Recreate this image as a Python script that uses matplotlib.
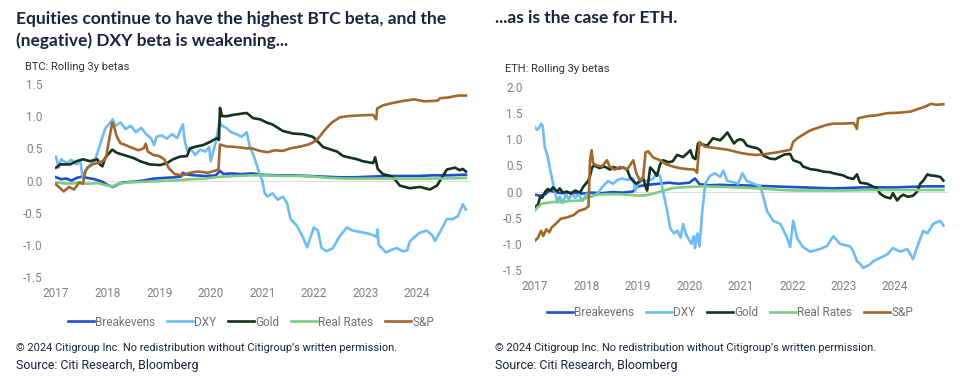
import matplotlib
matplotlib.use("Agg")
import matplotlib.pyplot as plt

# --- series colours / names ---
SERIES = ["Breakevens", "DXY", "Gold", "Real Rates", "S&P"]
COLORS = {"Breakevens": "#1f4fd0", "DXY": "#6fbcf5", "Gold": "#15321f",
          "Real Rates": "#7ccc84", "S&P": "#a2672c"}
NAVY = "#1d2140"
GREY = "#808080"
NARROW = ["Liberation Sans Narrow", "Roboto", "DejaVu Sans"]
YEARS = [2017, 2018, 2019, 2020, 2021, 2022, 2023, 2024]

# --- BTC: rolling 3y betas (decimal year, beta) ---
btc_be_x = [2017.0, 2017.1, 2017.2, 2017.3, 2017.4, 2017.5, 2017.6, 2017.75, 2017.9, 2018.0, 2018.1,
            2018.2, 2018.3, 2018.5, 2018.7, 2018.9, 2019.1, 2019.3, 2019.42, 2019.46, 2019.55, 2019.7,
            2019.9, 2020.1, 2020.18, 2020.25, 2020.4, 2020.6, 2020.8, 2021.0, 2021.3, 2021.6, 2021.9,
            2022.2, 2022.5, 2022.8, 2023.1, 2023.4, 2023.7, 2024.0, 2024.3, 2024.6, 2024.95]
btc_be_y = [0.05, 0.02, 0.03, 0.0, 0.04, 0.06, 0.04, 0.02, -0.02, -0.07, -0.1,
            -0.06, -0.03, -0.02, 0.0, 0.03, 0.04, 0.05, 0.06, 0.12, 0.09, 0.08,
            0.07, 0.08, 0.15, 0.1, 0.11, 0.1, 0.11, 0.09, 0.08, 0.08, 0.07,
            0.06, 0.05, 0.05, 0.06, 0.07, 0.07, 0.07, 0.08, 0.08, 0.09]

btc_dxy_x = [2017.0, 2017.05, 2017.1, 2017.2, 2017.3, 2017.4, 2017.47, 2017.52, 2017.6, 2017.75,
             2017.85, 2017.95, 2018.05, 2018.1, 2018.15, 2018.25, 2018.35, 2018.45, 2018.55, 2018.65,
             2018.75, 2018.85, 2018.9, 2018.95, 2019.05, 2019.15, 2019.25, 2019.35, 2019.42, 2019.46,
             2019.5, 2019.55, 2019.6, 2019.7, 2019.8, 2019.9, 2019.97, 2020.0, 2020.05, 2020.1,
             2020.17, 2020.22, 2020.3, 2020.4, 2020.5, 2020.6, 2020.7, 2020.75, 2020.85, 2020.95,
             2021.0, 2021.05, 2021.1, 2021.2, 2021.3, 2021.4, 2021.48, 2021.55, 2021.67, 2021.8,
             2021.87, 2021.95, 2022.0, 2022.08, 2022.15, 2022.25, 2022.37, 2022.5, 2022.64, 2022.76,
             2022.9, 2023.03, 2023.15, 2023.22, 2023.23, 2023.26, 2023.4, 2023.5, 2023.61, 2023.72,
             2023.81, 2023.86, 2023.95, 2024.06, 2024.19, 2024.3, 2024.35, 2024.45, 2024.58, 2024.7,
             2024.8, 2024.89, 2024.95]
btc_dxy_y = [0.37, 0.2, 0.33, 0.27, 0.32, 0.25, 0.3, 0.04, 0.2, 0.3,
             0.55, 0.8, 0.9, 0.95, 0.85, 0.9, 0.8, 0.85, 0.75, 0.82,
             0.72, 0.65, 0.55, 0.68, 0.7, 0.65, 0.72, 0.66, 0.8, 0.87,
             0.6, 0.45, 0.5, 0.4, 0.48, 0.45, 0.52, 0.3, 0.45, 0.6,
             0.92, 0.85, 0.82, 0.75, 0.72, 0.68, 0.75, 0.55, 0.35, 0.1,
             0.0, -0.2, -0.25, -0.2, -0.3, -0.25, -0.35, -0.6, -0.7, -0.9,
             -1.04, -0.85, -0.73, -0.78, -1.05, -1.1, -1.05, -0.87, -0.73, -0.78,
             -0.8, -0.82, -0.85, -0.88, -0.76, -1.0, -1.12, -1.08, -1.05, -1.1,
             -1.09, -0.95, -0.88, -0.81, -0.78, -0.85, -0.94, -0.8, -0.6, -0.6,
             -0.55, -0.37, -0.45]

btc_gold_x = [2017.0, 2017.08, 2017.27, 2017.4, 2017.52, 2017.66, 2017.8, 2017.85, 2017.9, 2017.95,
              2018.09, 2018.18, 2018.38, 2018.5, 2018.63, 2018.82, 2019.02, 2019.15, 2019.27, 2019.4,
              2019.54, 2019.6, 2019.73, 2019.85, 2019.99, 2020.12, 2020.16, 2020.18, 2020.22, 2020.32,
              2020.43, 2020.7, 2020.82, 2020.96, 2021.09, 2021.2, 2021.4, 2021.6, 2021.79, 2021.98,
              2022.06, 2022.18, 2022.45, 2022.57, 2022.84, 2022.95, 2023.15, 2023.19, 2023.24, 2023.34,
              2023.53, 2023.61, 2023.67, 2023.86, 2024.06, 2024.25, 2024.39, 2024.45, 2024.58, 2024.74,
              2024.83, 2024.89, 2024.95]
btc_gold_y = [0.2, 0.25, 0.25, 0.3, 0.33, 0.3, 0.33, 0.25, 0.22, 0.35,
              0.48, 0.43, 0.38, 0.35, 0.3, 0.25, 0.24, 0.27, 0.33, 0.37,
              0.38, 0.5, 0.53, 0.55, 0.6, 0.66, 0.63, 1.13, 1.0, 1.0,
              1.02, 1.05, 0.97, 0.95, 0.9, 0.87, 0.77, 0.73, 0.72, 0.68,
              0.62, 0.52, 0.45, 0.38, 0.33, 0.3, 0.27, 0.36, 0.18, 0.1,
              0.06, -0.02, -0.08, -0.12, -0.1, -0.14, -0.08, 0.0, 0.17, 0.2,
              0.16, 0.18, 0.14]

btc_rr_x = [2017.0, 2017.2, 2017.4, 2017.6, 2017.8, 2018.0, 2018.1, 2018.2, 2018.4, 2018.7,
            2019.0, 2019.3, 2019.6, 2019.9, 2020.2, 2020.5, 2020.8, 2021.1, 2021.4, 2021.7,
            2022.0, 2022.3, 2022.6, 2023.0, 2023.5, 2024.0, 2024.5, 2024.95]
btc_rr_y = [-0.03, -0.05, -0.04, -0.05, -0.04, -0.08, -0.09, -0.05, -0.03, -0.02,
            -0.01, 0.0, 0.02, 0.03, 0.06, 0.07, 0.08, 0.08, 0.07, 0.07,
            0.06, 0.04, 0.03, 0.03, 0.03, 0.03, 0.03, 0.04]

btc_sp_x = [2017.0, 2017.08, 2017.15, 2017.25, 2017.35, 2017.45, 2017.52, 2017.57, 2017.62, 2017.7,
            2017.8, 2017.9, 2017.97, 2018.0, 2018.09, 2018.12, 2018.18, 2018.25, 2018.35, 2018.5,
            2018.6, 2018.7, 2018.74, 2018.78, 2018.88, 2019.0, 2019.1, 2019.18, 2019.3, 2019.45,
            2019.6, 2019.75, 2019.95, 2020.15, 2020.18, 2020.3, 2020.5, 2020.7, 2020.8, 2020.95,
            2021.1, 2021.25, 2021.4, 2021.55, 2021.75, 2021.9, 2022.0, 2022.08, 2022.25, 2022.35,
            2022.5, 2022.65, 2022.85, 2023.15, 2023.21, 2023.23, 2023.35, 2023.5, 2023.75, 2023.95,
            2024.15, 2024.4, 2024.45, 2024.6, 2024.8, 2024.95]
btc_sp_y = [-0.06, -0.12, -0.17, -0.1, -0.14, -0.03, -0.05, 0.15, 0.2, 0.25,
            0.27, 0.3, 0.35, 0.5, 0.9, 0.85, 0.68, 0.58, 0.55, 0.5,
            0.47, 0.5, 0.57, 0.45, 0.4, 0.38, 0.33, 0.2, 0.1, 0.08,
            0.12, 0.14, 0.12, 0.17, 0.56, 0.53, 0.52, 0.5, 0.5, 0.46,
            0.44, 0.47, 0.46, 0.5, 0.53, 0.56, 0.6, 0.65, 0.82, 0.9,
            0.98, 1.0, 1.01, 1.02, 0.95, 1.12, 1.17, 1.2, 1.24, 1.26,
            1.23, 1.24, 1.28, 1.29, 1.32, 1.32]

# --- ETH: rolling 3y betas ---
eth_be_x = [2017.0, 2017.1, 2017.2, 2017.28, 2017.35, 2017.5, 2017.7, 2017.9, 2018.1, 2018.3,
            2018.5, 2018.7, 2018.9, 2019.0, 2019.2, 2019.4, 2019.6, 2019.8, 2020.0, 2020.11,
            2020.2, 2020.4, 2020.6, 2020.8, 2021.0, 2021.3, 2021.6, 2021.9, 2022.2, 2022.5,
            2022.8, 2023.1, 2023.4, 2023.7, 2024.0, 2024.3, 2024.6, 2024.94]
eth_be_y = [-0.06, -0.08, -0.05, 0.02, 0.0, -0.03, -0.02, -0.04, -0.02, -0.03,
            -0.01, -0.02, 0.0, 0.1, 0.13, 0.15, 0.17, 0.15, 0.17, 0.25,
            0.14, 0.12, 0.13, 0.12, 0.12, 0.11, 0.1, 0.09, 0.08, 0.07,
            0.06, 0.07, 0.08, 0.08, 0.08, 0.09, 0.1, 0.1]

eth_dxy_x = [2017.0, 2017.04, 2017.08, 2017.12, 2017.15, 2017.19, 2017.24, 2017.3, 2017.35, 2017.39,
             2017.43, 2017.48, 2017.54, 2017.6, 2017.66, 2017.72, 2017.78, 2017.85, 2017.92, 2018.01,
             2018.1, 2018.21, 2018.32, 2018.42, 2018.52, 2018.6, 2018.7, 2018.8, 2018.91, 2018.95,
             2019.0, 2019.1, 2019.2, 2019.3, 2019.37, 2019.43, 2019.47, 2019.57, 2019.63, 2019.7,
             2019.77, 2019.83, 2019.88, 2019.93, 2019.98, 2020.04, 2020.09, 2020.11, 2020.16, 2020.2,
             2020.25, 2020.31, 2020.4, 2020.5, 2020.6, 2020.66, 2020.74, 2020.85, 2020.95, 2021.03,
             2021.12, 2021.25, 2021.38, 2021.44, 2021.51, 2021.63, 2021.77, 2021.9, 2021.96, 2022.02,
             2022.1, 2022.21, 2022.35, 2022.54, 2022.68, 2022.8, 2022.93, 2023.13, 2023.19, 2023.26,
             2023.32, 2023.38, 2023.5, 2023.58, 2023.71, 2023.85, 2023.96, 2024.1, 2024.24, 2024.35,
             2024.43, 2024.55, 2024.63, 2024.74, 2024.88, 2024.94]
eth_dxy_y = [1.23, 1.18, 1.22, 1.3, 1.25, 0.85, 0.7, 0.4, 0.15, 0.0,
             -0.2, -0.1, -0.22, -0.05, -0.15, -0.03, -0.12, -0.05, -0.18, -0.04,
             -0.1, -0.04, 0.1, 0.2, 0.15, 0.22, 0.25, 0.22, 0.26, 0.02,
             0.15, 0.22, 0.2, 0.25, 0.35, 0.3, 0.1, -0.37, -0.7, -0.8,
             -0.75, -0.88, -0.62, -0.8, -0.9, -1.0, -0.85, -1.08, -0.8, -1.05,
             -0.4, 0.15, 0.3, 0.35, 0.28, 0.4, 0.2, 0.18, 0.15, 0.35,
             0.2, 0.15, 0.1, -0.1, -0.37, -0.56, -0.62, -0.88, -1.06, -0.56,
             -0.9, -1.06, -1.15, -1.1, -1.04, -0.85, -1.0, -1.05, -1.15, -1.33,
             -1.38, -1.46, -1.4, -1.33, -1.27, -1.2, -1.08, -1.15, -1.1, -1.29,
             -1.06, -0.75, -0.8, -0.62, -0.56, -0.65]

eth_gold_x = [2017.0, 2017.06, 2017.1, 2017.14, 2017.2, 2017.25, 2017.3, 2017.35, 2017.43, 2017.48,
              2017.54, 2017.62, 2017.7, 2017.78, 2017.88, 2017.93, 2018.03, 2018.07, 2018.11, 2018.15,
              2018.25, 2018.35, 2018.46, 2018.52, 2018.62, 2018.72, 2018.79, 2018.85, 2018.91, 2018.97,
              2019.04, 2019.1, 2019.15, 2019.18, 2019.24, 2019.3, 2019.37, 2019.43, 2019.49, 2019.6,
              2019.68, 2019.76, 2019.88, 2019.96, 2020.02, 2020.07, 2020.12, 2020.17, 2020.25, 2020.35,
              2020.46, 2020.6, 2020.67, 2020.74, 2020.79, 2020.87, 2020.93, 2020.99, 2021.05, 2021.12,
              2021.22, 2021.32, 2021.38, 2021.44, 2021.57, 2021.67, 2021.77, 2021.85, 2021.96, 2022.02,
              2022.16, 2022.21, 2022.35, 2022.49, 2022.62, 2022.74, 2022.8, 2022.99, 2023.07, 2023.19,
              2023.26, 2023.32, 2023.46, 2023.52, 2023.65, 2023.71, 2023.8, 2023.91, 2023.96, 2024.04,
              2024.1, 2024.16, 2024.25, 2024.35, 2024.43, 2024.49, 2024.55, 2024.63, 2024.68, 2024.78,
              2024.88, 2024.94]
eth_gold_y = [-0.3, -0.25, -0.1, -0.12, 0.0, 0.05, 0.02, 0.08, 0.0, 0.06,
              -0.02, 0.0, -0.04, 0.02, -0.02, 0.08, 0.2, 0.3, 0.46, 0.5,
              0.45, 0.48, 0.42, 0.47, 0.44, 0.46, 0.42, 0.27, 0.2, 0.15,
              0.2, 0.27, 0.1, 0.02, 0.46, 0.4, 0.3, 0.52, 0.6, 0.56,
              0.58, 0.7, 0.66, 0.73, 0.79, 0.65, 0.62, 0.92, 0.9, 0.88,
              1.02, 0.98, 1.05, 1.13, 1.05, 0.92, 0.98, 1.0, 0.98, 0.88,
              0.85, 0.83, 0.79, 0.69, 0.63, 0.62, 0.67, 0.71, 0.72, 0.6,
              0.55, 0.48, 0.43, 0.41, 0.38, 0.37, 0.35, 0.31, 0.27, 0.24,
              0.33, 0.17, 0.15, 0.12, 0.06, -0.04, -0.1, -0.13, -0.03, -0.17,
              -0.1, -0.06, -0.1, -0.08, 0.0, 0.15, 0.21, 0.33, 0.31, 0.3,
              0.28, 0.21]

eth_rr_x = [2017.0, 2017.05, 2017.12, 2017.2, 2017.35, 2017.5, 2017.7, 2017.9, 2018.05, 2018.2,
            2018.4, 2018.6, 2018.8, 2019.0, 2019.15, 2019.3, 2019.5, 2019.65, 2019.8, 2020.0,
            2020.3, 2020.6, 2020.9, 2021.2, 2021.5, 2021.8, 2022.1, 2022.5, 2023.0, 2023.5,
            2024.0, 2024.5, 2024.94]
eth_rr_y = [-0.36, -0.3, -0.24, -0.22, -0.2, -0.2, -0.18, -0.17, -0.1, -0.06,
            -0.05, -0.05, -0.06, -0.08, -0.07, -0.04, 0.02, 0.06, 0.08, 0.09,
            0.1, 0.09, 0.08, 0.07, 0.05, 0.03, 0.02, 0.02, 0.02, 0.03,
            0.03, 0.03, 0.03]

eth_sp_x = [2017.0, 2017.06, 2017.12, 2017.16, 2017.22, 2017.28, 2017.32, 2017.4, 2017.5, 2017.6,
            2017.75, 2017.85, 2017.98, 2018.04, 2018.07, 2018.1, 2018.13, 2018.2, 2018.3, 2018.4,
            2018.45, 2018.55, 2018.65, 2018.8, 2018.91, 2018.97, 2019.04, 2019.1, 2019.15, 2019.2,
            2019.3, 2019.43, 2019.55, 2019.68, 2019.8, 2019.95, 2020.1, 2020.15, 2020.2, 2020.3,
            2020.45, 2020.6, 2020.75, 2020.95, 2021.1, 2021.3, 2021.5, 2021.7, 2021.97, 2022.02,
            2022.1, 2022.2, 2022.35, 2022.5, 2022.65, 2022.8, 2023.0, 2023.2, 2023.26, 2023.28,
            2023.45, 2023.65, 2023.85, 2024.1, 2024.3, 2024.45, 2024.6, 2024.7, 2024.8, 2024.94]
eth_sp_y = [-0.94, -0.88, -0.75, -0.85, -0.72, -0.78, -0.69, -0.62, -0.52, -0.5,
            -0.45, -0.37, -0.33, -0.28, 0.6, 0.79, 0.54, 0.5, 0.48, 0.6,
            0.48, 0.42, 0.47, 0.43, 0.6, 0.35, 0.21, 0.25, 0.75, 0.77,
            0.65, 0.6, 0.52, 0.48, 0.45, 0.43, 0.42, 0.36, 0.95, 0.86,
            0.84, 0.82, 0.8, 0.75, 0.72, 0.7, 0.72, 0.75, 0.8, 0.95,
            1.02, 1.08, 1.17, 1.22, 1.27, 1.3, 1.3, 1.31, 1.2, 1.4,
            1.44, 1.46, 1.5, 1.51, 1.53, 1.58, 1.63, 1.68, 1.66, 1.67]

btc = {"Breakevens": (btc_be_x, btc_be_y), "DXY": (btc_dxy_x, btc_dxy_y),
       "Gold": (btc_gold_x, btc_gold_y), "Real Rates": (btc_rr_x, btc_rr_y),
       "S&P": (btc_sp_x, btc_sp_y)}
eth = {"Breakevens": (eth_be_x, eth_be_y), "DXY": (eth_dxy_x, eth_dxy_y),
       "Gold": (eth_gold_x, eth_gold_y), "Real Rates": (eth_rr_x, eth_rr_y),
       "S&P": (eth_sp_x, eth_sp_y)}

W, H = 975, 376
fig = plt.figure(figsize=(W / 100, H / 100), dpi=100)


def px_axes(x0, x1, y0, y1):
    return fig.add_axes([x0 / W, 1 - y1 / H, (x1 - x0) / W, (y1 - y0) / H])


def draw_panel(ax, data, ylim, yticks, legend_xy):
    for name in SERIES:
        x, y = data[name]
        ax.plot(x, y, color=COLORS[name], lw=1.9, label=name, solid_joinstyle="round")
    ax.axhline(0, color="#dcdcdc", lw=0.8, zorder=0)
    ax.set_ylim(*ylim)
    ax.set_yticks(yticks)
    ax.set_yticklabels([f"{t:.1f}" for t in yticks], family=NARROW, fontsize=8.5, color=GREY)
    ax.set_xticks(YEARS)
    ax.set_xticklabels([str(y) for y in YEARS], family=NARROW, fontsize=8.5, color=GREY)
    ax.tick_params(length=0)
    ax.tick_params(axis="y", pad=9)
    ax.tick_params(axis="x", pad=7)
    for s in ax.spines.values():
        s.set_visible(False)
    ax.patch.set_alpha(0)
    fig.legend(*ax.get_legend_handles_labels(), loc="center",
               bbox_to_anchor=(legend_xy[0] / W, 1 - legend_xy[1] / H), ncol=5, frameon=False,
               handlelength=2.2, handletextpad=0.1, columnspacing=1.0,
               prop={"family": NARROW, "size": 8.5}, labelcolor="#707070")


ax1 = px_axes(55, 470, 84, 277)
ax1.set_xlim(2016.98, 2025.03)
draw_panel(ax1, btc, (-1.5, 1.5), [-1.5, -1.0, -0.5, 0.0, 0.5, 1.0, 1.5], (251, 322))

ax2 = px_axes(535, 948, 87, 270)
ax2.set_xlim(2017.0, 2025.03)
draw_panel(ax2, eth, (-1.5, 2.0), [-1.5, -1.0, -0.5, 0.0, 0.5, 1.0, 1.5, 2.0], (730, 313))

# --- titles and notes ---
title_kw = dict(family=["Lato", "DejaVu Sans"], fontweight="bold", fontsize=12.5, color=NAVY,
                va="baseline")
fig.text(16 / W, 1 - 24 / H, "Equities continue to have the highest BTC beta, and the", **title_kw)
fig.text(16 / W, 1 - 46 / H, "(negative) DXY beta is weakening...", **title_kw)
fig.text(495 / W, 1 - 23 / H, "...as is the case for ETH.", **title_kw)

sub_kw = dict(family=NARROW, fontsize=8, color="#333333", va="baseline")
fig.text(25 / W, 1 - 70 / H, "BTC: Rolling 3y betas", **sub_kw)
fig.text(505 / W, 1 - 72 / H, "ETH: Rolling 3y betas", **sub_kw)

copy = "\u00a9 2024 Citigroup Inc. No redistribution without Citigroup\u2019s written permission."
foot_kw = dict(family=NARROW, color=NAVY, va="baseline")
for x0 in (16, 495):
    fig.text(x0 / W, 1 - 351 / H, copy, fontsize=7.9, **foot_kw)
    fig.text(x0 / W, 1 - 369 / H, "Source: Citi Research, Bloomberg", fontsize=8.9, **foot_kw)

fig.savefig("out.png", dpi=100, facecolor="white")
